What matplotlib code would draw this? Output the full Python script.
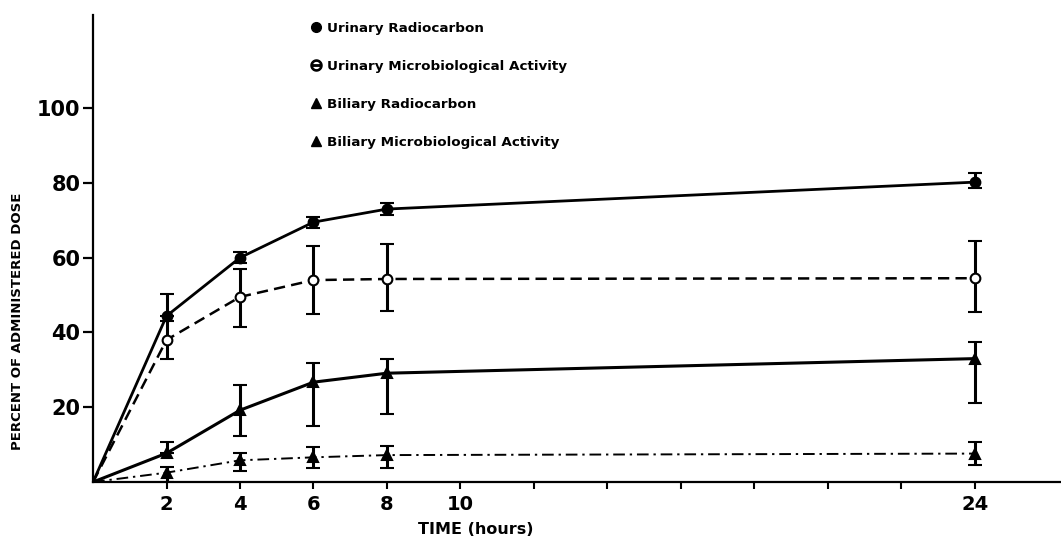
import matplotlib
matplotlib.use("Agg")
import matplotlib.pyplot as plt
from matplotlib.lines import Line2D

plt.rcParams['font.family'] = ['DejaVu Sans']

hours = [0, 2, 4, 6, 8, 24]

urinary_c14 = [0, 44.4, 60.0, 69.5, 73.0, 80.2]
urinary_c14_lo = [0, 0.0, 1.5, 1.5, 1.5, 1.5]
urinary_c14_hi = [0, 6.0, 1.5, 1.5, 1.5, 2.5]

urinary_micro = [0, 38.0, 49.5, 54.0, 54.3, 54.5]
urinary_micro_lo = [0, 5.0, 8.0, 9.0, 8.5, 9.0]
urinary_micro_hi = [0, 5.0, 7.5, 9.0, 9.3, 9.9]

biliary_c14 = [0, 7.7, 19.2, 26.7, 29.1, 33.0]
biliary_c14_lo = [0, 0.0, 7.0, 11.7, 11.0, 12.0]
biliary_c14_hi = [0, 3.0, 6.8, 5.1, 3.9, 4.4]

biliary_micro = [0, 2.5, 5.8, 6.6, 7.2, 7.6]
biliary_micro_lo = [0, 2.5, 2.8, 2.8, 3.4, 3.1]
biliary_micro_hi = [0, 1.5, 1.9, 2.8, 2.4, 3.1]

series_labels = ["Urinary Radiocarbon", "Urinary Microbiological Activity",
                 "Biliary Radiocarbon", "Biliary Microbiological Activity"]

x_ticks = [2, 4, 6, 8, 10, 12, 14, 16, 18, 20, 22, 24]
x_tick_labels = ["2", "4", "6", "8", "10", "", "", "", "", "", "", "24"]
y_ticks = [20, 40, 60, 80, 100]

fig = plt.figure(figsize=(10.61, 5.40), dpi=100)
ax = fig.add_axes([0.0877, 0.1074, 0.9123, 0.8648])

series = [
    (urinary_c14, urinary_c14_lo, urinary_c14_hi, '-', 'o', 'black', 2.0),
    (urinary_micro, urinary_micro_lo, urinary_micro_hi, (0, (4.5, 2.5)), 'o', 'white', 1.8),
    (biliary_c14, biliary_c14_lo, biliary_c14_hi, '-', '^', 'black', 2.2),
    (biliary_micro, biliary_micro_lo, biliary_micro_hi, (0, (6, 2.5, 1.2, 2.5)), '^', 'black', 1.4),
]

for vals, lo, hi, ls, mk, mfc, lw in series:
    ax.plot(hours, vals, color='black', linestyle=ls, linewidth=lw, zorder=2)
    ax.errorbar(hours[1:], vals[1:], yerr=[lo[1:], hi[1:]], fmt=mk,
                color='black', markerfacecolor=mfc, markeredgecolor='black',
                markersize=7, markeredgewidth=1.5, ecolor='black',
                elinewidth=2.2, capsize=5, capthick=2.2, zorder=3)

ax.set_xlim(0, 26.35)
ax.set_ylim(0, 124.9)

for side in ('top', 'right'):
    ax.spines[side].set_visible(False)
for side in ('left', 'bottom'):
    ax.spines[side].set_linewidth(1.6)

ax.set_xticks(x_ticks)
ax.set_xticklabels(x_tick_labels, fontsize=14, fontweight='heavy')
ax.set_yticks(y_ticks)
ax.set_yticklabels([str(v) for v in y_ticks], fontsize=15, fontweight='heavy')
ax.tick_params(axis='x', direction='out', length=5, width=1.5, pad=4)
ax.tick_params(axis='y', direction='out', length=7, width=1.6, pad=2)

ax.set_xlabel("TIME (hours)", fontsize=11.5, fontweight='bold')
ax.set_ylabel("PERCENT OF ADMINISTERED DOSE", fontsize=9.5, fontweight='bold')
ax.yaxis.set_label_coords(-0.071, 0.345)
ax.xaxis.set_label_coords(0.395, -0.085)

handles = [
    Line2D([], [], linestyle='none', marker='o', color='black', markersize=7),
    Line2D([], [], linestyle='none', marker=r'$\ominus$', color='black', markersize=8),
    Line2D([], [], linestyle='none', marker='^', color='black', markersize=7),
    Line2D([], [], linestyle='none', marker='^', color='black', markersize=7),
]
fig.legend(handles, series_labels, loc='upper left',
           bbox_to_anchor=(0.283, 0.982), frameon=False,
           prop={'size': 9.7, 'weight': 'bold'}, labelspacing=1.85,
           handlelength=0.6, handletextpad=0.5)

fig.savefig("out.png", dpi=100)
